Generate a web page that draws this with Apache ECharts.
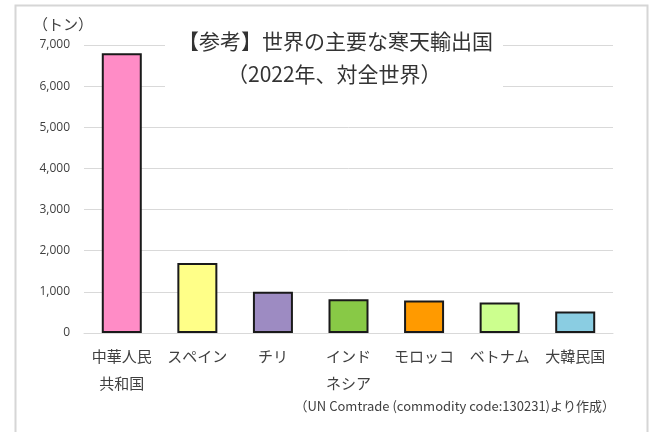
<!DOCTYPE html>
<html>
<head>
<meta charset="utf-8">
<script src="https://cdn.jsdelivr.net/npm/echarts@6/dist/echarts.min.js"></script>
<style>
  html, body { margin: 0; padding: 0; background: #fff; }
  #chart { width: 653px; height: 432px; }
</style>
</head>
<body>
<div id="chart"></div>
<script>
// 主要な寒天輸出国 (2022年)
const countries = ['中華人民\n共和国', 'スペイン', 'チリ', 'インド\nネシア', 'モロッコ', 'ベトナム', '大韓民国']
const exportTons = [6800, 1700, 1000, 820, 790, 740, 520]
const barColors = ['#ff8cc6', '#ffff88', '#9d8bc2', '#88c946', '#ff9a00', '#ccff8e', '#8acde2']

const FONT = '"Noto Sans CJK JP", "Noto Sans", sans-serif'

const chart = echarts.init(document.getElementById('chart'))

const titleStyle = { fontFamily: FONT, fontSize: 21, fontWeight: 'normal', color: '#333' }

const option = {
  backgroundColor: '#fff',
  animation: false,
  textStyle: { fontFamily: FONT },
  grid: {
    left: 84,
    right: 40,
    top: 45,
    bottom: 99
  },
  title: [
    {
      text: '【参考】世界の主要な寒天輸出国',
      left: 178,
      top: 31,
      padding: 0,
      textStyle: titleStyle
    },
    {
      text: '（2022年、対全世界）',
      left: 227,
      top: 64,
      padding: 0,
      textStyle: titleStyle
    }
  ],
  xAxis: {
    type: 'category',
    data: countries,
    axisTick: { show: false },
    axisLine: { lineStyle: { color: '#d9d9d9', width: 1 } },
    axisLabel: {
      color: '#404040',
      fontSize: 15,
      lineHeight: 27,
      margin: 10,
      interval: 0,
      fontFamily: FONT
    }
  },
  yAxis: {
    type: 'value',
    min: 0,
    max: 7000,
    interval: 1000,
    name: '（トン）',
    nameLocation: 'end',
    nameGap: 13,
    nameTextStyle: { align: 'right', color: '#404040', fontSize: 15, fontFamily: FONT, padding: [0, -9, 0, 0] },
    axisLine: { show: false },
    axisTick: { show: false },
    splitLine: { lineStyle: { color: '#d9d9d9', width: 1 } },
    axisLabel: {
      color: '#404040',
      fontSize: 12,
      margin: 14,
      fontFamily: '"Open Sans", "Noto Sans", sans-serif',
      formatter: v => v.toLocaleString('en-US')
    }
  },
  series: [{
    type: 'bar',
    barWidth: 40,
    data: exportTons.map((v, i) => ({
      value: v,
      itemStyle: { color: barColors[i] }
    })),
    itemStyle: { borderColor: '#1a1a1a', borderWidth: 2 }
  }],
  graphic: [
    {
      // white box behind the title, hides the gridlines there
      type: 'rect',
      left: 165,
      top: 30,
      z: 5,
      shape: { width: 338, height: 68 },
      style: { fill: '#fff' },
      silent: true
    },
    {
      type: 'rect',
      left: 13,
      top: 3,
      shape: { width: 632, height: 440 },
      style: { fill: 'none', stroke: '#d6d6d6', lineWidth: 2 },
      silent: true
    },
    {
      type: 'text',
      right: 38,
      top: 400,
      style: {
        text: '（UN Comtrade (commodity code:130231)より作成）',
        fontSize: 13,
        fill: '#404040',
        fontFamily: FONT
      }
    }
  ]
}

chart.setOption(option)
</script>
</body>
</html>
